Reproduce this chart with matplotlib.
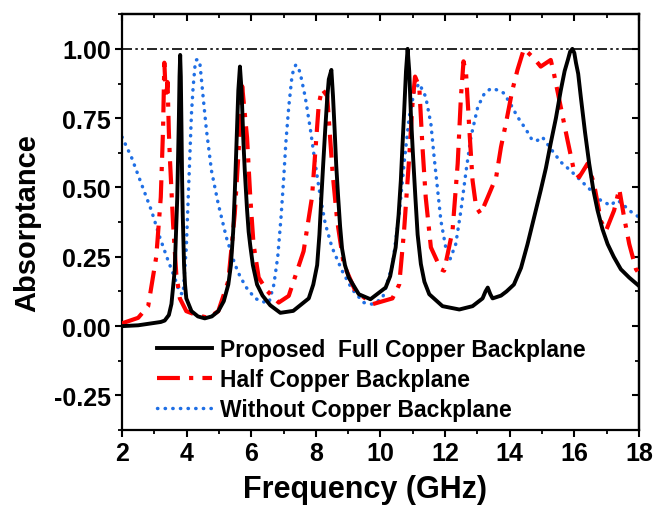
import matplotlib
matplotlib.use("Agg")
import matplotlib.pyplot as plt
from matplotlib.ticker import MultipleLocator, FormatStrFormatter

plt.rcParams['font.family'] = ['Liberation Sans', 'DejaVu Sans']
plt.rcParams['font.weight'] = 'bold'

# ---------------- data ----------------
full_x = [2.0, 2.5, 2.91, 3.20, 3.32, 3.45, 3.53, 3.63, 3.71, 3.76, 3.78, 3.80, 3.82, 3.84, 3.86, 3.88,
          3.92, 3.95, 3.99, 4.15, 4.35, 4.56, 4.78, 4.98, 5.15, 5.29, 5.37, 5.44, 5.49, 5.54, 5.60,
          5.65, 5.70, 5.76, 5.80, 5.87, 5.92, 5.97, 6.05, 6.18, 6.35, 6.59, 6.90, 7.30, 7.78, 7.92,
          8.04, 8.11, 8.17, 8.23, 8.29, 8.35, 8.40, 8.48, 8.53, 8.58, 8.63, 8.69, 8.75, 8.81, 8.90,
          9.02, 9.33, 9.69, 10.16, 10.30, 10.47, 10.56, 10.63, 10.68, 10.73, 10.79, 10.84, 10.89,
          10.94, 11.00, 11.08, 11.15, 11.25, 11.36, 11.51, 11.92, 12.44, 12.85, 13.16, 13.25, 13.32,
          13.40, 13.47, 13.73, 13.90, 14.13, 14.35, 14.55, 14.75, 14.96, 15.12, 15.27, 15.43, 15.58,
          15.70, 15.80, 15.87, 15.94, 16.00, 16.05, 16.12, 16.20, 16.33, 16.46, 16.59, 16.72, 16.87,
          17.03, 17.22, 17.44, 17.70, 18.0]
full_y = [0.0, 0.003, 0.01, 0.015, 0.02, 0.04, 0.08, 0.20, 0.465, 0.75, 0.90, 0.978, 0.90, 0.72, 0.525, 0.40,
          0.22, 0.15, 0.10, 0.054, 0.035, 0.028, 0.035, 0.054, 0.09, 0.15, 0.22, 0.34, 0.48, 0.646, 0.85,
          0.936, 0.85, 0.658, 0.56, 0.42, 0.34, 0.29, 0.22, 0.15, 0.11, 0.075, 0.048, 0.055, 0.10, 0.15,
          0.22, 0.33, 0.465, 0.59, 0.71, 0.82, 0.89, 0.924, 0.83, 0.71, 0.58, 0.465, 0.36, 0.28, 0.22,
          0.175, 0.115, 0.097, 0.139, 0.18, 0.284, 0.40, 0.525, 0.65, 0.767, 0.92, 1.0, 0.92,
          0.767, 0.63, 0.465, 0.33, 0.224, 0.16, 0.115, 0.072, 0.06, 0.072, 0.10, 0.125, 0.139,
          0.115, 0.10, 0.11, 0.125, 0.15, 0.21, 0.295, 0.39, 0.49, 0.57, 0.66, 0.75, 0.85,
          0.92, 0.96, 0.99, 1.0, 0.985, 0.95, 0.91, 0.827, 0.70, 0.586, 0.49, 0.417, 0.35,
          0.296, 0.25, 0.205, 0.175, 0.145]

half_x = [2.0, 2.5, 2.81, 3.06, 3.20, 3.27, 3.31, 3.36, 3.41, 3.45, 3.48, 3.58, 3.68, 3.79, 3.99,
          4.30, 4.67, 4.98, 5.29, 5.49, 5.65, 5.72, 5.87, 5.97, 6.07, 6.23, 6.49, 6.85, 7.16, 7.62,
          7.88, 8.09, 8.19, 8.35, 8.52, 8.66, 8.86, 9.22, 9.53, 9.75, 10.37, 10.58, 10.73, 10.89,
          10.99, 11.07, 11.20, 11.30, 11.40, 11.56, 11.87, 11.97, 12.23, 12.39, 12.49, 12.57, 12.65,
          12.75, 12.85, 12.96, 13.10, 13.32, 13.58, 13.73, 13.88, 14.08, 14.24, 14.44, 14.75, 14.96,
          15.27, 15.37, 15.58, 15.79, 15.99, 16.15, 16.41, 16.61, 16.82, 16.98, 17.23, 17.39, 17.54,
          17.70, 17.91, 18.0]
half_y = [0.01, 0.03, 0.072, 0.25, 0.465, 0.71, 0.95, 0.82, 0.88, 0.70, 0.61, 0.37, 0.187, 0.10, 0.054,
          0.04, 0.03, 0.054, 0.163, 0.405, 0.71, 0.865, 0.68, 0.465, 0.296, 0.175, 0.127, 0.085, 0.109, 0.27,
          0.465, 0.80, 0.855, 0.83, 0.55, 0.38, 0.224, 0.127, 0.10, 0.079, 0.10, 0.15, 0.344, 0.61,
          0.80, 0.90, 0.864, 0.646, 0.465, 0.284, 0.205, 0.20, 0.344, 0.586, 0.827, 0.955, 0.91,
          0.71, 0.525, 0.43, 0.405, 0.465, 0.537, 0.646, 0.73, 0.85, 0.924, 1.0, 0.966, 0.936,
          0.96, 0.91, 0.79, 0.67, 0.56, 0.537, 0.586, 0.513, 0.38, 0.344, 0.417, 0.495, 0.393,
          0.296, 0.205, 0.19]

none_x = [2.0, 2.29, 2.60, 2.91, 3.17, 3.43, 3.63, 3.79, 3.89, 3.99, 4.07, 4.15, 4.20, 4.26, 4.30, 4.35,
          4.41, 4.51, 4.61, 4.77, 4.98, 5.23, 5.49, 5.65, 5.85, 6.12, 6.35, 6.55, 6.70, 6.82, 6.92, 7.00,
          7.07, 7.16, 7.26, 7.32, 7.38, 7.45, 7.52, 7.67, 7.83, 7.98, 8.14, 8.29, 8.50, 8.81, 9.12, 9.48,
          9.75, 10.06, 10.37, 10.58, 10.73, 10.89, 11.05, 11.20, 11.40, 11.56, 11.66, 11.77, 11.87,
          12.02, 12.15, 12.33, 12.49, 12.65, 12.80, 13.01, 13.22, 13.42, 13.68, 13.82, 14.03, 14.24,
          14.50, 14.70, 14.86, 15.01, 15.27, 15.58, 15.89, 16.20, 16.51, 16.82, 17.13, 17.29, 17.44,
          17.70, 18.0]
none_y = [0.682, 0.61, 0.513, 0.417, 0.32, 0.235, 0.175, 0.12, 0.115, 0.284, 0.525, 0.767, 0.86, 0.94, 0.96,
          0.962, 0.948, 0.827, 0.71, 0.56, 0.44, 0.32, 0.224, 0.18, 0.139, 0.10, 0.088, 0.085, 0.15, 0.25,
          0.39, 0.525, 0.66, 0.79, 0.90, 0.93, 0.942, 0.935, 0.91, 0.827, 0.71, 0.586, 0.465, 0.37, 0.284,
          0.20, 0.133, 0.085, 0.079, 0.10, 0.22, 0.405, 0.586, 0.755, 0.85, 0.875, 0.827, 0.73, 0.61,
          0.49, 0.38, 0.284, 0.24, 0.296, 0.417, 0.56, 0.682, 0.79, 0.84, 0.857, 0.85, 0.84, 0.80,
          0.755, 0.71, 0.67, 0.67, 0.682, 0.64, 0.592, 0.56, 0.525, 0.49, 0.453, 0.435, 0.453, 0.447,
          0.417, 0.393]

ref_level = 1.0
labels = ['Proposed  Full Copper Backplane', 'Half Copper Backplane', 'Without Copper Backplane']
xticks = [2, 4, 6, 8, 10, 12, 14, 16, 18]
yticks = [-0.25, 0.00, 0.25, 0.50, 0.75, 1.00]

# ---------------- figure ----------------
fig = plt.figure(figsize=(6.56, 5.06), dpi=100)
ax = fig.add_axes([0.186, 0.148, 0.788, 0.822])

ax.axhline(ref_level, color='black', lw=1.2, dashes=(6, 2, 1.5, 2, 1.5, 2), zorder=1)
ax.plot(full_x, full_y, color='black', lw=2.8, label=labels[0], zorder=4,
        solid_joinstyle='round')
ax.plot(half_x, half_y, color='#FF0000', lw=3.0, dashes=(5.5, 2.2, 1.0, 2.2), label=labels[1], zorder=3)
ax.plot(none_x, none_y, color='#1F6FE5', lw=2.5, dashes=(0.1, 2.1), dash_capstyle='round',
        label=labels[2], zorder=2)

ax.set_xlim(2, 18)
ax.set_ylim(-0.375, 1.125)
ax.set_xticks(xticks)
ax.set_yticks(yticks)
ax.xaxis.set_minor_locator(MultipleLocator(1))
ax.yaxis.set_minor_locator(MultipleLocator(0.125))
ax.yaxis.set_major_formatter(FormatStrFormatter('%.2f'))

for sp in ax.spines.values():
    sp.set_linewidth(1.6)

ax.tick_params(which='major', direction='out', length=5, width=1.5, labelsize=18, pad=3)
ax.tick_params(which='minor', direction='out', length=3, width=1.3)
for lab in ax.get_xticklabels() + ax.get_yticklabels():
    lab.set_fontweight('bold')

# mirrored inward ticks on top and right
top = ax.secondary_xaxis('top')
top.set_xticks(xticks)
top.xaxis.set_minor_locator(MultipleLocator(1))
top.tick_params(which='major', direction='in', length=5, width=1.5, labeltop=False)
top.tick_params(which='minor', direction='in', length=3, width=1.3)
top.spines['top'].set_linewidth(1.6)
right = ax.secondary_yaxis('right')
right.set_yticks(yticks)
right.yaxis.set_minor_locator(MultipleLocator(0.125))
right.tick_params(which='major', direction='in', length=5, width=1.5, labelright=False)
right.tick_params(which='minor', direction='in', length=3, width=1.3)
right.spines['right'].set_linewidth(1.6)

ax.set_xlabel('Frequency (GHz)', fontsize=22, fontweight='bold', va='bottom')
ax.xaxis.set_label_coords(0.47, -0.178)
ax.set_ylabel('Absorptance', fontsize=21, fontweight='bold', labelpad=9)

leg = ax.legend(loc='upper left', bbox_to_anchor=(0.068, 0.222), frameon=False,
                prop={'size': 16.5, 'weight': 'bold'}, handlelength=2.4, handletextpad=0.35,
                labelspacing=0.30, borderpad=0, borderaxespad=0)

fig.savefig('out.png', dpi=100)
